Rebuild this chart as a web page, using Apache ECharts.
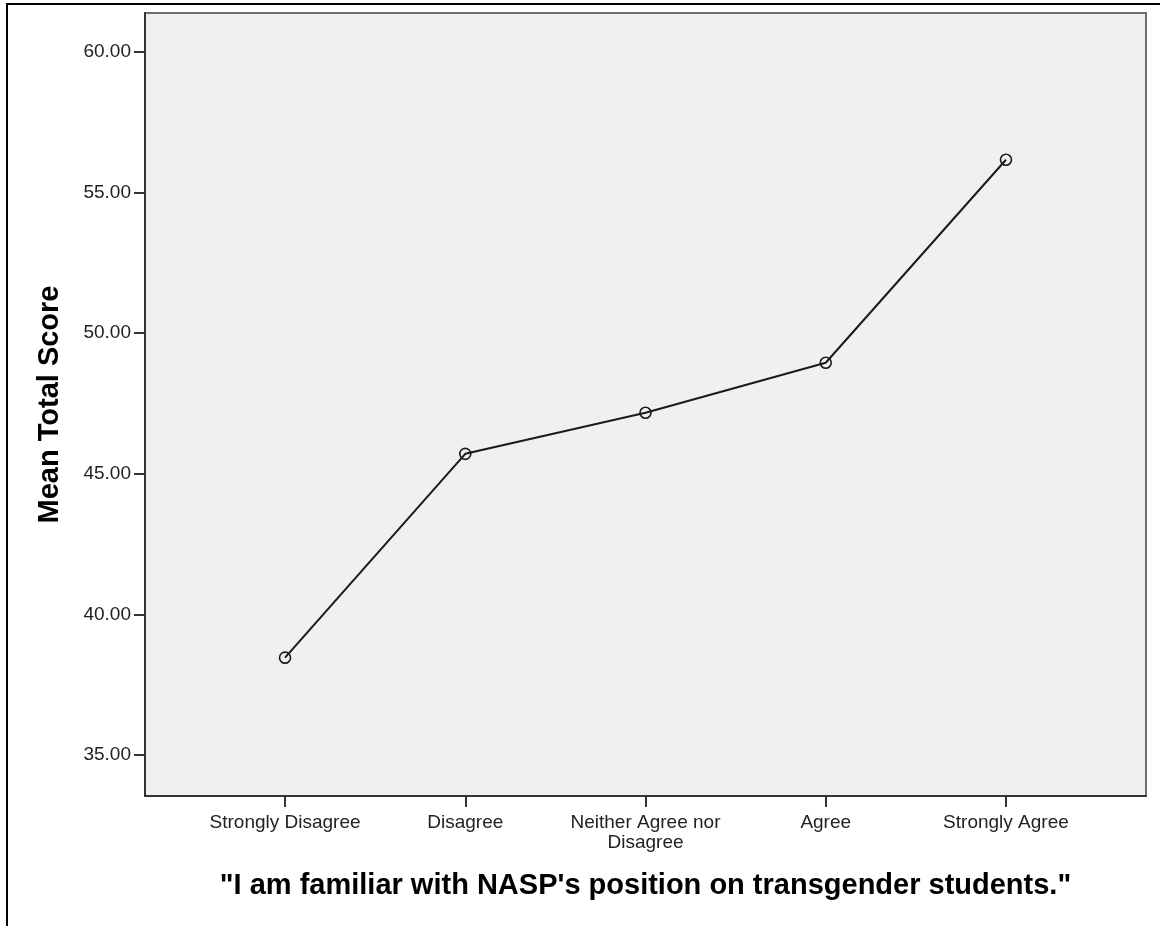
<!DOCTYPE html>
<html>
<head>
<meta charset="utf-8">
<script src="https://cdn.jsdelivr.net/npm/echarts@6/dist/echarts.min.js"></script>
<style>
  html, body { margin: 0; padding: 0; background: #fff; }
  #frame {
    position: absolute; left: 6px; top: 3px; width: 1152px; height: 923px;
    border-top: 2px solid #000; border-left: 2px solid #000; border-right: 1px solid #ddd;
  }
  #main { position: absolute; left: 0; top: 0; width: 1160px; height: 926px; }
</style>
</head>
<body>
<div id="frame"></div>
<div id="main"></div>
<script>
// responses to the statement, in order
const categories = ['Strongly Disagree', 'Disagree', 'Neither Agree nor\nDisagree', 'Agree', 'Strongly Agree']
// mean total score per response
const meanScores = [38.46, 45.71, 47.17, 48.95, 56.17]
const yTicks = [35, 40, 45, 50, 55, 60]
const xTicks = [0, 1, 2, 3, 4]

const chart = echarts.init(document.getElementById('main'), null, { renderer: 'canvas' })

const font = 'Liberation Sans, Arial, sans-serif'

chart.setOption({
  animation: false,
  grid: {
    left: 145,
    top: 13,
    right: 14,
    bottom: 130,
    show: true,
    backgroundColor: '#f0f0f0',
    borderColor: '#6e6e6e',
    borderWidth: 2
  },
  xAxis: {
    type: 'value',
    min: -0.777,
    max: 4.777,
    name: '"I am familiar with NASP\'s position on transgender students."',
    nameLocation: 'middle',
    nameGap: 75,
    nameTextStyle: { fontFamily: font, fontSize: 29, fontWeight: 'bold', color: '#000' },
    axisLine: { show: true, onZero: false, lineStyle: { color: '#333', width: 2 } },
    axisTick: { show: true, customValues: xTicks, length: 11, lineStyle: { color: '#333', width: 2 } },
    axisLabel: {
      customValues: xTicks,
      margin: 17,
      fontFamily: font,
      fontSize: 19,
      lineHeight: 20,
      color: '#222',
      formatter: (v) => categories[Math.round(v)] || ''
    },
    splitLine: { show: false }
  },
  yAxis: {
    type: 'value',
    min: 33.54,
    max: 61.39,
    name: 'Mean Total Score',
    nameLocation: 'middle',
    nameGap: 81,
    nameTextStyle: { fontFamily: font, fontSize: 29, fontWeight: 'bold', color: '#000' },
    axisLine: { show: true, onZero: false, lineStyle: { color: '#333', width: 2 } },
    axisTick: { show: true, customValues: yTicks, length: 11, lineStyle: { color: '#333', width: 2 } },
    axisLabel: {
      customValues: yTicks,
      margin: 14,
      fontFamily: font,
      fontSize: 19,
      color: '#222',
      formatter: (v) => v.toFixed(2)
    },
    splitLine: { show: false }
  },
  series: [
    {
      type: 'line',
      data: meanScores.map((v, i) => [i, v]),
      symbol: 'circle',
      symbolSize: 11,
      showAllSymbol: true,
      lineStyle: { color: '#1a1a1a', width: 2 },
      itemStyle: { color: 'transparent', borderColor: '#1a1a1a', borderWidth: 1.6 }
    }
  ]
})
</script>
</body>
</html>
